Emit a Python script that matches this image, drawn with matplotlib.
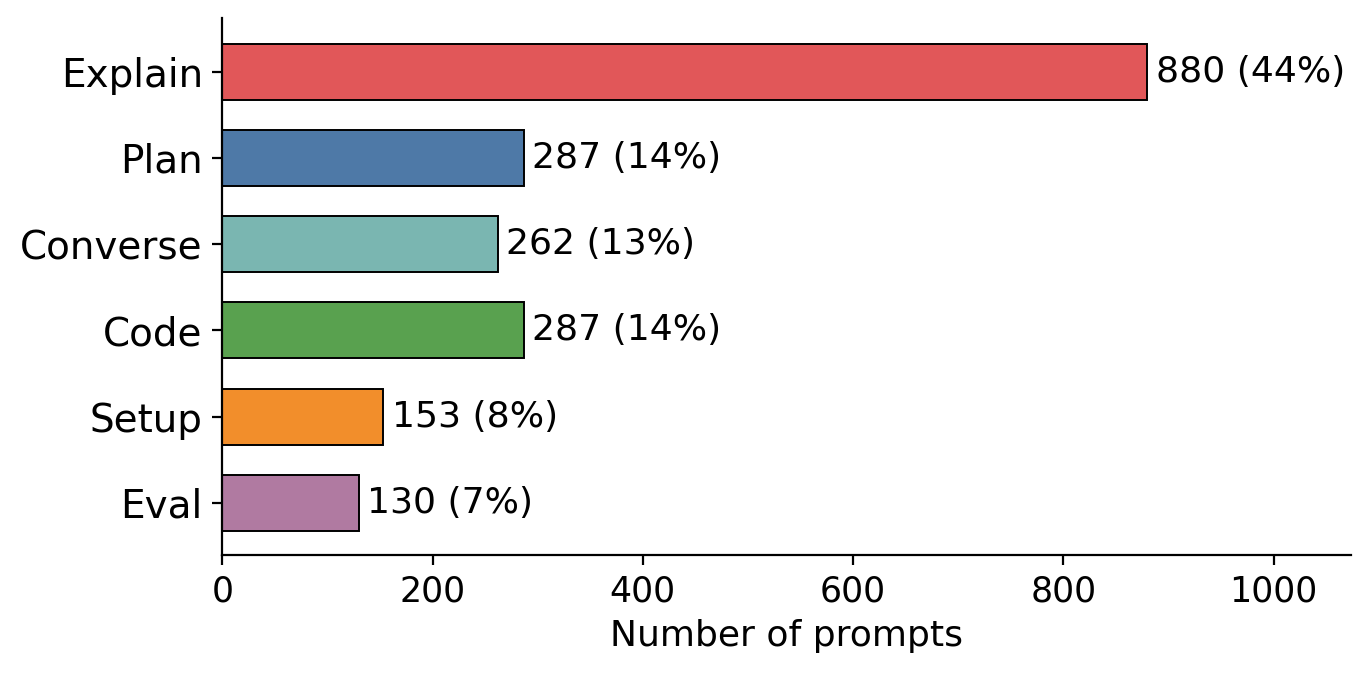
import matplotlib
matplotlib.use('Agg')
import matplotlib.pyplot as plt

categories = ['Explain', 'Plan', 'Converse', 'Code', 'Setup', 'Eval']
counts = [880, 287, 262, 287, 153, 130]
percents = [44, 14, 13, 14, 8, 7]
colors = ['#E15759', '#4E79A7', '#7AB6B1', '#59A14F', '#F28E2B', '#B07AA1']
xticks = [0, 200, 400, 600, 800, 1000]

fig = plt.figure(figsize=(6.86, 3.37), dpi=200)
ax = fig.add_axes([0.162, 0.177, 0.823, 0.796])

ypos = list(range(len(categories)))[::-1]
ax.barh(ypos, counts, height=0.65, color=colors, edgecolor='black', linewidth=0.7)

for y, c, p in zip(ypos, counts, percents):
    ax.text(c + 8, y, f'{c} ({p}%)', va='center', ha='left', fontsize=13)

ax.set_yticks(ypos)
ax.set_yticklabels(categories, fontsize=14)
ax.set_xticks(xticks)
ax.tick_params(axis='x', labelsize=12.5)
ax.set_xlim(0, 1074)
ax.set_ylim(-0.6, 5.62)
ax.set_xlabel('Number of prompts', fontsize=13)

ax.spines['top'].set_visible(False)
ax.spines['right'].set_visible(False)

fig.savefig('out.png', dpi=200)
